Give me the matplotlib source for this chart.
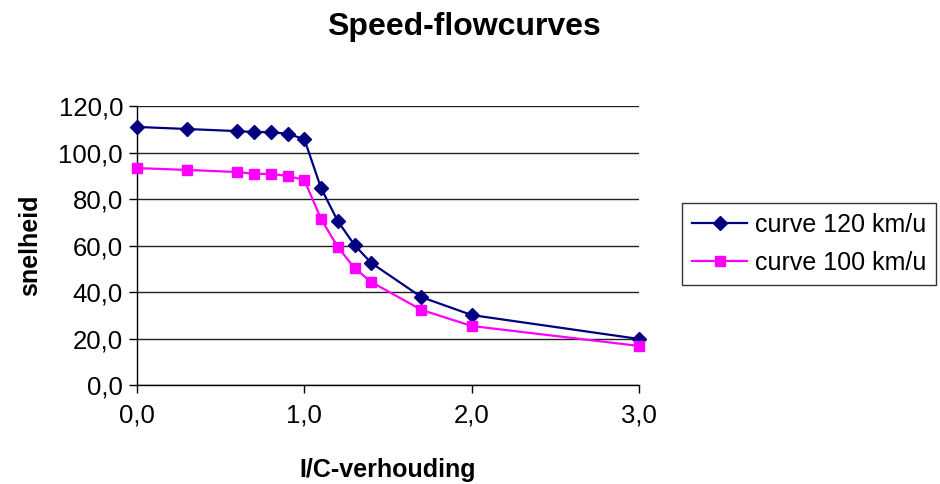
import matplotlib
matplotlib.use("Agg")
import matplotlib.pyplot as plt
from matplotlib.ticker import FuncFormatter, MultipleLocator

plt.rcParams['font.family'] = ['Liberation Sans', 'DejaVu Sans']

# I/C ratio and speeds per curve
ic_ratio = [0.0, 0.3, 0.6, 0.7, 0.8, 0.9, 1.0, 1.1, 1.2, 1.3, 1.4, 1.7, 2.0, 3.0]
speed_120 = [111.0, 110.1, 109.2, 108.8, 108.8, 108.0, 105.8, 84.7, 70.5, 60.2, 52.5, 37.8, 30.1, 19.8]
speed_100 = [93.3, 92.5, 91.6, 90.8, 90.8, 89.9, 88.2, 71.4, 59.4, 50.3, 44.3, 32.3, 25.4, 16.8]
labels = ["curve 120 km/u", "curve 100 km/u"]

fig = plt.figure(figsize=(9.4, 4.84), dpi=100)
ax = fig.add_axes([0.1457, 0.2045, 0.5341, 0.5765])

l1, = ax.plot(ic_ratio, speed_120, color='#000080', marker='D', markersize=7.5,
              linewidth=1.6, label=labels[0], clip_on=False, zorder=3)
l2, = ax.plot(ic_ratio, speed_100, color='#FF00FF', marker='s', markersize=7.5,
              linewidth=1.6, label=labels[1], clip_on=False, zorder=3)

ax.set_xlim(0, 3)
ax.set_ylim(0, 120)
ax.xaxis.set_major_locator(MultipleLocator(1))
ax.yaxis.set_major_locator(MultipleLocator(20))
comma = FuncFormatter(lambda v, pos: f"{v:.1f}".replace('.', ','))
ax.xaxis.set_major_formatter(comma)
ax.yaxis.set_major_formatter(comma)

ax.grid(axis='y', color='#222222', linewidth=1)
ax.set_axisbelow(True)
for s in ['top', 'right']:
    ax.spines[s].set_visible(False)
for s in ['left', 'bottom']:
    ax.spines[s].set_color('black')
    ax.spines[s].set_linewidth(1)
ax.tick_params(direction='out', length=6, width=1, labelsize=18.5, colors='black')
ax.tick_params(axis='x', pad=7)
ax.tick_params(axis='y', pad=4)

ax.set_xlabel("I/C-verhouding", fontsize=18, fontweight='bold', labelpad=22)
ax.set_ylabel("snelheid", fontsize=18, fontweight='bold', labelpad=12)
fig.suptitle("Speed-flowcurves", x=0.493, y=0.975, fontsize=23, fontweight='bold')

leg = fig.legend(handles=[l1, l2], loc='upper right', bbox_to_anchor=(0.9957, 0.5806),
                 fontsize=18, frameon=True, fancybox=False, edgecolor='black',
                 handlelength=2.2, borderpad=0.4, labelspacing=0.55, handletextpad=0.3,
                 borderaxespad=0)
leg.get_frame().set_linewidth(1)

fig.savefig("out.png", dpi=100)
